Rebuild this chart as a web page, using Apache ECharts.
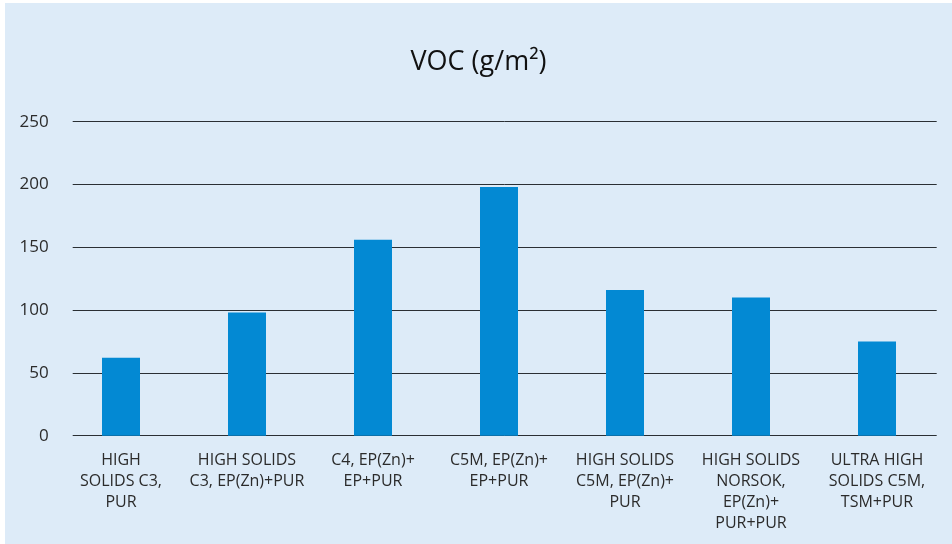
<!DOCTYPE html>
<html>
<head>
<meta charset="utf-8">
<script src="https://cdn.jsdelivr.net/npm/echarts@6/dist/echarts.min.js"></script>
<style>
html,body{margin:0;padding:0;background:#ffffff;}
#c{position:absolute;left:5px;top:3px;width:947px;height:541px;background:#ddebf8;}
</style>
</head>
<body>
<div id="c"></div>
<script>
const titleText = 'VOC (g/m²)';
const categories = [
  'HIGH\nSOLIDS C3,\nPUR',
  'HIGH SOLIDS\nC3, EP(Zn)+PUR',
  'C4, EP(Zn)+\nEP+PUR',
  'C5M, EP(Zn)+\nEP+PUR',
  'HIGH SOLIDS\nC5M, EP(Zn)+\nPUR',
  'HIGH SOLIDS\nNORSOK,\nEP(Zn)+\nPUR+PUR',
  'ULTRA HIGH\nSOLIDS C5M,\nTSM+PUR'
];
const vocValues = [62, 98, 156, 198, 116, 110, 75];
const yTicks = [0, 50, 100, 150, 200, 250];

const FONT = '"Open Sans", sans-serif';
const chart = echarts.init(document.getElementById('c'));
chart.setOption({
  backgroundColor: '#ddebf8',
  animation: false,
  title: {
    text: titleText,
    left: 'center',
    top: 41,
    textStyle: {fontFamily: FONT, fontSize: 27, fontWeight: 'normal', color: '#111'}
  },
  grid: [
    {left: 67.7, right: 15.3, top: 118.7, bottom: 108.3},
    {left: 53, right: 12, top: 118.7, bottom: 108.3}
  ],
  xAxis: [
    {gridIndex: 0, type: 'value', show: false, min: 0, max: 1},
    {
      gridIndex: 1, type: 'category', data: categories,
      axisLine: {show: false}, axisTick: {show: false},
      axisLabel: {
        interval: 0, margin: 14, fontFamily: FONT, fontSize: 16,
        lineHeight: 21, color: '#2b2b2b', align: 'center'
      }
    }
  ],
  yAxis: [
    {
      gridIndex: 0, type: 'value', min: yTicks[0], max: yTicks[yTicks.length - 1], interval: 50,
      axisLine: {show: false}, axisTick: {show: false},
      axisLabel: {margin: 24, fontFamily: FONT, fontSize: 17, color: '#2b2b2b'},
      splitLine: {show: true, lineStyle: {color: '#2a2f34', width: 1}}
    },
    {
      gridIndex: 1, type: 'value', min: yTicks[0], max: yTicks[yTicks.length - 1], interval: 50,
      show: false, splitLine: {show: false}
    }
  ],
  series: [{
    type: 'bar',
    xAxisIndex: 1, yAxisIndex: 1,
    data: vocValues,
    barWidth: 38,
    itemStyle: {color: '#0389d3'}
  }]
});
</script>
</body>
</html>
